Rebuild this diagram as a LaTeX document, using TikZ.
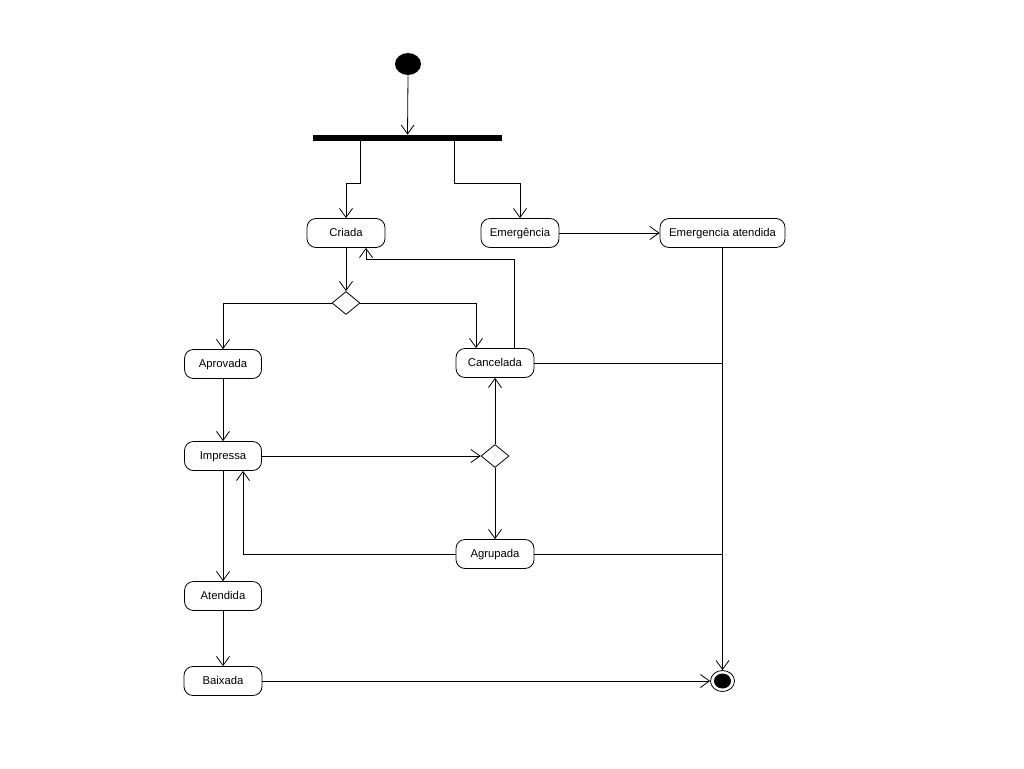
\documentclass[tikz,border=0pt]{standalone}
\usepackage{fontspec}
\setmainfont{Liberation Sans}
\usetikzlibrary{arrows.meta,shapes.geometric}
\begin{document}
\begin{tikzpicture}[x=1pt,y=-1pt,
  line width=0.8pt,
  act/.style={draw, rounded corners=9pt, minimum height=29pt, inner sep=0pt,
    text height=8pt, text depth=2pt,
    font=\fontsize{11.3}{13}\selectfont},
  dec/.style={draw, diamond, minimum width=28pt, minimum height=23pt, inner sep=0pt},
  arr/.style={-{Straight Barb[length=9pt,width=13pt]}}]
\useasboundingbox (0,0) rectangle (1024,768);
% nodes
\node[ellipse, fill=black, minimum width=26pt, minimum height=22pt, inner sep=0pt] (start) at (408,64) {};
\node[fill=black, minimum width=189pt, minimum height=6pt, inner sep=0pt] (bar) at (407.5,138) {};
\node[act, minimum width=78pt] (criada) at (346,233) {Criada};
\node[act, minimum width=78pt] (emerg) at (520,233) {Emergência};
\node[act, minimum width=125pt] (ematend) at (722.5,233) {Emergencia atendida};
\node[dec] (d1) at (346,303) {};
\node[act, minimum width=77pt] (aprov) at (223,364) {Aprovada};
\node[act, minimum width=78pt] (cancel) at (495,363) {Cancelada};
\node[act, minimum width=77pt] (impr) at (223,456) {Impressa};
\node[dec] (d2) at (495,456) {};
\node[act, minimum width=78pt] (agrup) at (495,554) {Agrupada};
\node[act, minimum width=77pt] (atend) at (223,596) {Atendida};
\node[act, minimum width=78pt] (baix) at (223,681) {Baixada};
\node[ellipse, draw, minimum width=24pt, minimum height=21pt, inner sep=0pt] (fin) at (722.5,681) {};
\fill (fin.center) ellipse (8.5 and 7.5);
% connectors
\draw[arr] (start.south) -- (bar.north);
\draw[arr] ([xshift=-47.5pt]bar.south) -- ++(0,42) -| (criada.north);
\draw[arr] ([xshift=46.5pt]bar.south) -- ++(0,42) -| (emerg.north);
\draw[arr] (emerg.east) -- (ematend.west);
\draw[arr] (ematend.south) -- (fin.north);
\draw[arr] (criada.south) -- (d1.north);
\draw[arr] ([xshift=19pt]cancel.north) |- ([shift={(20,11)}]criada.south) -- ([xshift=20pt]criada.south);
\draw[arr] (d1.west) -| (aprov.north);
\draw[arr] (d1.east) -| ([xshift=-19pt]cancel.north);
\draw[arr] (aprov.south) -- (impr.north);
\draw[arr] (impr.east) -- (d2.west);
\draw[arr] (d2.north) -- (cancel.south);
\draw[arr] (d2.south) -- (agrup.north);
\draw[arr] (agrup.west) -| ([xshift=20pt]impr.south);
\draw[arr] (impr.south) -- (atend.north);
\draw[arr] (atend.south) -- (baix.north);
\draw[arr] (baix.east) -- (fin.west);
\draw (cancel.east) -- (cancel.east -| fin.center);
\draw (agrup.east) -- (agrup.east -| fin.center);
\end{tikzpicture}
\end{document}
